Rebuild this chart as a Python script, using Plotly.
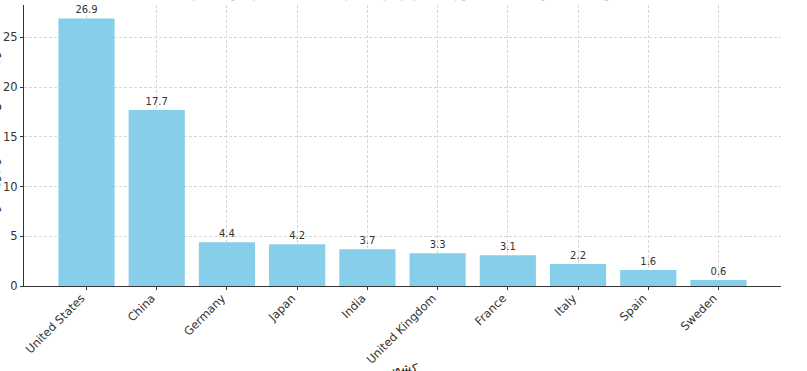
import plotly.graph_objects as go

countries = ["United States", "China", "Germany", "Japan", "India",
             "United Kingdom", "France", "Italy", "Spain", "Sweden"]
gdp = [26.9, 17.7, 4.4, 4.2, 3.7, 3.3, 3.1, 2.2, 1.6, 0.6]
y_ticks = [0, 5, 10, 15, 20, 25]

title_text = "تولید ناخالص داخلی کشورهای برتر جهان در سال ۲۰۲۳ (تریلیون دلار)"
x_title = "کشور"
y_title = "تولید ناخالص داخلی (تریلیون دلار)"

fig = go.Figure(go.Bar(
    x=list(range(len(countries))),
    y=gdp,
    width=0.8,
    marker=dict(color="#87CEEB", line=dict(width=0)),
    text=[f"{v:.1f}" for v in gdp],
    textposition="outside",
    textfont=dict(size=10, color="#333333", family="DejaVu Sans"),
    cliponaxis=False,
))

grid = dict(showgrid=True, gridcolor="#d6d6d6", griddash="3px,2px", gridwidth=0.7)

fig.update_layout(
    width=807, height=371,
    margin=dict(l=24, r=26, t=5, b=85, autoexpand=False),
    paper_bgcolor="white", plot_bgcolor="white",
    font=dict(family="DejaVu Sans", size=11, color="#333333"),
    showlegend=False,
    xaxis=dict(
        range=[-0.89, 9.89],
        tickmode="array",
        tickvals=list(range(len(countries))),
        ticktext=countries,
        tickangle=-45,
        ticks="outside", ticklen=3, tickcolor="#333333",
        ticklabelshift=-5, ticklabelstandoff=-3,
        showline=True, linecolor="#333333", linewidth=1,
        zeroline=False, automargin=False,
        tickfont=dict(size=11.5, color="#333333"),
        **grid,
    ),
    yaxis=dict(
        range=[0, 28.245],
        tickmode="array",
        tickvals=y_ticks,
        ticks="outside", ticklen=3, tickcolor="#333333",
        showline=True, linecolor="#333333", linewidth=1,
        zeroline=False, automargin=False,
        tickfont=dict(size=11.5, color="#333333"),
        **grid,
    ),
    annotations=[
        dict(text=title_text, xref="paper", yref="paper", x=0.5, y=1.0,
             yshift=2, xanchor="center", yanchor="bottom", showarrow=False,
             font=dict(size=15, color="#222222")),
        dict(text=x_title, xref="paper", yref="paper", x=0.5, y=0,
             yshift=-73, xanchor="center", yanchor="top", showarrow=False,
             font=dict(size=12, color="#222222")),
        dict(text=y_title, xref="paper", yref="paper", x=0, y=0.55,
             xshift=-30, xanchor="center", yanchor="middle", showarrow=False,
             textangle=-90, font=dict(size=12, color="#222222")),
    ],
)

fig.write_html(
    "out.html",
    config={"displayModeBar": False},
    post_script="document.body.style.margin='0';document.body.style.overflow='hidden';",
)
